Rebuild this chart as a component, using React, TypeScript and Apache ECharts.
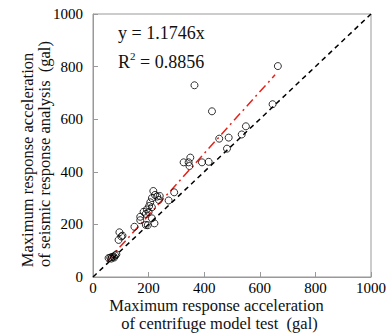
import React, { useEffect, useRef } from "react";
import * as echarts from "echarts";

const measured: [number, number][] = [
  [665, 802], [365, 729], [428, 630], [646, 657], [550, 573], [535, 542], [488, 530], [454, 526],
  [482, 488], [416, 438], [392, 436], [350, 454], [344, 436], [347, 422], [326, 436], [292, 322],
  [272, 291], [217, 327], [223, 312], [231, 306], [240, 308], [237, 293], [206, 284], [212, 300],
  [202, 270], [212, 265], [194, 257], [200, 247], [182, 248], [190, 240], [170, 229], [170, 216],
  [190, 198], [197, 197], [212, 223], [221, 204], [149, 191], [95, 170], [92, 141], [102, 154],
  [106, 157], [56, 72], [62, 74], [68, 76], [74, 78], [80, 82], [66, 70], [76, 74], [84, 86],
];
const fitLine: [number, number][] = [[50, 59], [655, 769]];
const equalLine: [number, number][] = [[0, 0], [1000, 1000]];
const axisMin = 0;
const axisMax = 1000;
const axisStep = 200;
const xTitle = ["Maximum response acceleration", "of centrifuge model test  (gal)"];
const yTitle = ["Maximum response acceleration", "of seismic response analysis  (gal)"];
const eqText = "y = 1.1746x";
const r2Text = "R{s|2} = 0.8856";

const FONT = "Liberation Serif";

export default function App() {
  const ref = useRef<HTMLDivElement>(null);
  useEffect(() => {
    if (!ref.current) return;
    const chart = echarts.init(ref.current, undefined, { renderer: "svg" });
    const label = {
      color: "#000",
      fontFamily: FONT,
      fontSize: 15,
      formatter: (v: number) => String(v),
    };
    const axisCommon = {
      type: "value" as const,
      min: axisMin,
      max: axisMax,
      interval: axisStep,
      axisLine: { show: true, lineStyle: { color: "#999", width: 1 } },
      axisTick: { show: true, inside: true, length: 5, lineStyle: { color: "#999" } },
      splitLine: { show: false },
    };
    const titleStyle = (text: string) => ({
      text,
      fontFamily: FONT,
      fontSize: 16.5,
      fontWeight: "normal",
      fill: "#111",
      align: "center",
      verticalAlign: "middle",
    });
    chart.setOption({
      animation: false,
      backgroundColor: "#fff",
      grid: { left: 93, right: 21, top: 14, bottom: 59, show: true, borderColor: "#999", borderWidth: 1 },
      xAxis: { ...axisCommon, axisLabel: { ...label, margin: 3 } },
      yAxis: { ...axisCommon, axisLabel: { ...label, margin: 10 } },
      series: [
        {
          type: "line",
          data: equalLine,
          symbol: "none",
          lineStyle: { color: "#000", width: 1.5, type: [5, 4] },
          z: 1,
        },
        {
          type: "line",
          data: fitLine,
          symbol: "none",
          lineStyle: { color: "#e8201a", width: 1.5, type: [9, 4, 2, 4] },
          z: 2,
        },
        {
          type: "scatter",
          data: measured,
          symbol: "circle",
          symbolSize: 7,
          itemStyle: { color: "rgba(255,255,255,0)", borderColor: "#000", borderWidth: 1 },
          z: 3,
        },
      ],
      graphic: [
        {
          type: "text",
          x: 118,
          y: 33,
          style: { text: eqText, fontFamily: FONT, fontSize: 18, fill: "#111", verticalAlign: "middle", align: "left" },
        },
        {
          type: "text",
          x: 118,
          y: 62,
          style: {
            text: r2Text,
            fontFamily: FONT,
            fontSize: 18,
            fill: "#111",
            verticalAlign: "middle",
            align: "left",
            rich: { s: { fontSize: 11, fontFamily: FONT, verticalAlign: "top", padding: [0, 0, 12, 0] } },
          },
        },
        { type: "text", x: 216.5, y: 305, style: titleStyle(xTitle[0]) },
        { type: "text", x: 219.5, y: 323, style: titleStyle(xTitle[1]) },
        { type: "text", x: 27, y: 160, rotation: Math.PI / 2, style: titleStyle(yTitle[0]) },
        { type: "text", x: 44, y: 154, rotation: Math.PI / 2, style: titleStyle(yTitle[1]) },
      ],
    });
    return () => chart.dispose();
  }, []);
  return <div ref={ref} style={{ width: 392, height: 336, position: "absolute", left: 0, top: 0 }} />;
}
